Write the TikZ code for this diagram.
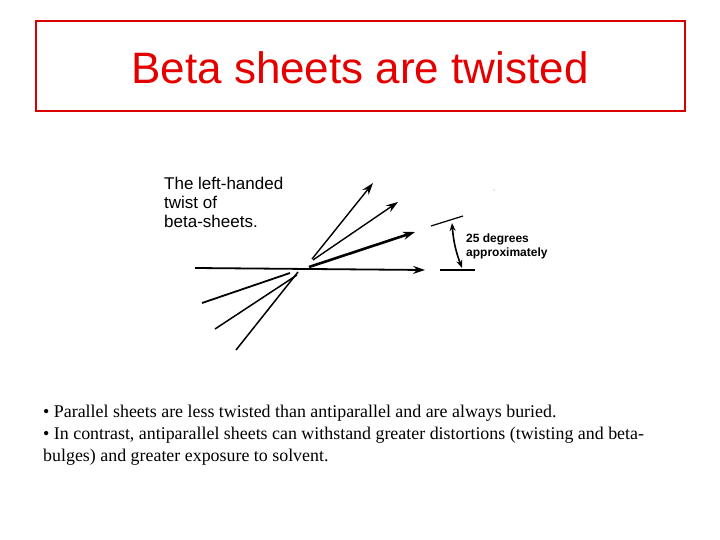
\documentclass[tikz,border=0pt]{standalone}
\usepackage{fontspec}
\usetikzlibrary{arrows.meta}
\setmainfont{Liberation Serif}
\setsansfont{Liberation Sans}
\begin{document}
\begin{tikzpicture}[x=1pt,y=-1pt,
  ln/.style={line width=1.8pt},
  ar/.style={line width=1.8pt,-{Stealth[length=12pt,width=8pt]}},
  lbl/.style={font=\sffamily\fontsize{17}{19}\selectfont,align=left,inner sep=0pt,anchor=north west},
  sm/.style={font=\sffamily\bfseries\fontsize{12}{13}\selectfont,inner sep=0pt,anchor=west},
  body/.style={font=\fontsize{17.9}{22}\selectfont,align=left,inner sep=0pt,anchor=north west}]
\useasboundingbox (0,0) rectangle (720,540);
\draw[red!85!black,line width=2.2pt] (36,21) rectangle (685,111);
\node[text=red!90!black,font=\sffamily\fontsize{44}{50}\selectfont] (title) at (360,68) {Beta sheets are twisted};
\node[lbl] (lab) at (164,177) {The left-handed\\twist of\\beta-sheets.};
\coordinate (h0) at (195,268); \coordinate (h1) at (425,270);
\draw[ar] (h0) -- (h1);
\coordinate (a0) at (312,259); \coordinate (a1) at (373,183);
\draw[ar,line width=1.4pt] (a0) -- (a1);
\coordinate (b0) at (313,260); \coordinate (b1) at (398,202);
\draw[ar,line width=1.4pt] (b0) -- (b1);
\coordinate (c0) at (309,267); \coordinate (c1) at (415,232);
\draw[ar,line width=2.6pt] (c0) -- (c1);
\coordinate (d0) at (202,303); \coordinate (d1) at (290,273);
\draw[ln] (d0) -- (d1);
\coordinate (e0) at (215,329); \coordinate (e1) at (297,275);
\draw[ln,line width=1.5pt] (e0) -- (e1);
\coordinate (f0) at (236,350); \coordinate (f1) at (298,272);
\draw[ln,line width=1.5pt] (f0) -- (f1);
\coordinate (t0) at (431,226); \coordinate (t1) at (463,216);
\draw[line width=1.2pt] (t0) -- (t1);
\coordinate (u0) at (440,270); \coordinate (u1) at (475,270);
\draw[line width=1.2pt] (u0) -- (u1);
\coordinate (m0) at (452,223); \coordinate (m1) at (462,268);
\draw[line width=1.6pt,{Stealth[length=8pt,width=6pt]}-{Stealth[length=8pt,width=6pt]}] (m0) to[bend right=8] (m1);
\node[sm] (deg) at (466,239) {25 degrees};
\node[sm] (appr) at (466,253) {approximately};
\fill[gray!40] (494,190) circle (0.8);
\node[body] (txt) at (43,405) {\textbullet{} Parallel sheets are less twisted than antiparallel and are always buried.\\
\textbullet{} In contrast, antiparallel sheets can withstand greater distortions (twisting and beta-\\bulges) and greater exposure to solvent.};
\end{tikzpicture}
\end{document}
